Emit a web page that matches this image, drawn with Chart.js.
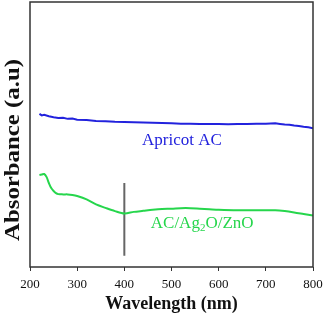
<!DOCTYPE html>
<html>
<head>
<meta charset="utf-8">
<script src="https://cdn.jsdelivr.net/npm/chart.js@4.4.1/dist/chart.umd.min.js"></script>
<style>
  html, body { margin: 0; padding: 0; background: #fff; }
  #wrap { width: 325px; height: 315px; }
</style>
</head>
<body>
<div id="wrap"><canvas id="uvChart"></canvas></div>
<script>
// wavelengths (nm) and absorbance
const apricotWl = [220, 225, 230, 240, 250, 260, 270, 280, 290, 300, 320, 340, 360, 380, 400, 420, 440, 460, 480, 500, 520, 540, 560, 580, 600, 620, 640, 660, 680, 700, 720, 730, 740, 750, 760, 770, 780, 790, 800];
const apricotAbs = [0.578, 0.572, 0.574, 0.569, 0.565, 0.562, 0.563, 0.559, 0.560, 0.556, 0.555, 0.551, 0.550, 0.548, 0.547, 0.546, 0.545, 0.544, 0.543, 0.542, 0.541, 0.541, 0.540, 0.540, 0.540, 0.539, 0.540, 0.540, 0.541, 0.541, 0.542, 0.540, 0.538, 0.537, 0.534, 0.532, 0.529, 0.527, 0.524];

const compositeWl = [220, 225, 230, 235, 240, 245, 250, 255, 260, 270, 280, 290, 300, 320, 340, 360, 380, 400, 420, 440, 460, 480, 500, 520, 540, 560, 580, 600, 640, 680, 720, 740, 760, 780, 800];
const compositeAbs = [0.347, 0.349, 0.351, 0.340, 0.317, 0.298, 0.287, 0.279, 0.275, 0.274, 0.274, 0.272, 0.268, 0.255, 0.236, 0.223, 0.211, 0.202, 0.208, 0.212, 0.216, 0.219, 0.220, 0.222, 0.222, 0.220, 0.218, 0.216, 0.214, 0.214, 0.214, 0.211, 0.206, 0.200, 0.194];

const markerWl = [400, 400];
const markerAbs = [0.317, 0.042];

const xTicks = [200, 300, 400, 500, 600, 700, 800];

const blue = '#2222dd';
const green = '#26d64c';

const toPoints = (xs, ys) => xs.map((x, i) => ({ x: x, y: ys[i] }));

// frame, curve labels and the y title
const decorations = {
    id: 'decorations',
    afterDatasetsDraw(chart) {
        const { ctx, chartArea: a, scales } = chart;
        ctx.save();
        ctx.strokeStyle = '#333';
        ctx.lineWidth = 1.5;
        ctx.strokeRect(a.left, a.top, a.right - a.left, a.bottom - a.top);

        ctx.textBaseline = 'alphabetic';
        ctx.textAlign = 'center';
        ctx.font = '17px "Liberation Serif"';
        ctx.fillStyle = blue;
        ctx.fillText('Apricot AC', scales.x.getPixelForValue(522), scales.y.getPixelForValue(0.460));

        ctx.fillStyle = green;
        const gx = scales.x.getPixelForValue(565);
        const gy = scales.y.getPixelForValue(0.147);
        const p1 = 'AC/Ag', p2 = 'O/ZnO';
        const big = '17px "Liberation Serif"', small = '11px "Liberation Serif"';
        ctx.font = big;
        const w1 = ctx.measureText(p1).width;
        const w2 = ctx.measureText(p2).width;
        ctx.font = small;
        const ws = ctx.measureText('2').width;
        const x0 = gx - (w1 + ws + w2) / 2;
        ctx.textAlign = 'left';
        ctx.font = big;
        ctx.fillText(p1, x0, gy);
        ctx.font = small;
        ctx.fillText('2', x0 + w1, gy + 3);
        ctx.font = big;
        ctx.fillText(p2, x0 + w1 + ws, gy);

        ctx.translate(14, 150);
        ctx.rotate(-Math.PI / 2);
        ctx.scale(1.24, 1);
        ctx.textAlign = 'center';
        ctx.textBaseline = 'middle';
        ctx.fillStyle = '#111';
        ctx.font = 'bold 20px "Liberation Serif"';
        ctx.fillText('Absorbance (a.u)', 0, 0);
        ctx.restore();
    }
};

new Chart(document.getElementById('uvChart'), {
    type: 'line',
    data: {
        datasets: [{
            data: toPoints(apricotWl, apricotAbs),
            borderColor: blue,
            borderWidth: 2,
            pointRadius: 0,
            tension: 0
        },
        {
            data: toPoints(compositeWl, compositeAbs),
            borderColor: green,
            borderWidth: 2,
            pointRadius: 0,
            tension: 0.3
        },
        {
            data: toPoints(markerWl, markerAbs),
            borderColor: '#666',
            borderWidth: 2,
            pointRadius: 0
        }]
    },
    options: {
        responsive: true,
        maintainAspectRatio: false,
        animation: false,
        layout: {
            padding: { top: 2, right: 12, left: 0, bottom: 0 }
        },
        scales: {
            x: {
                type: 'linear',
                min: 200,
                max: 800,
                afterBuildTicks: (scale) => { scale.ticks = xTicks.map(v => ({ value: v })); },
                afterFit: (scale) => { scale.height = 48; scale.paddingRight = 0; },
                grid: { display: true, drawOnChartArea: false, tickLength: 4, color: '#333' },
                border: { display: false },
                ticks: {
                    color: '#111',
                    padding: 6,
                    maxRotation: 0,
                    font: { family: 'Liberation Serif', size: 13 }
                },
                title: {
                    display: true,
                    text: 'Wavelength (nm)',
                    color: '#111',
                    padding: { top: 0, bottom: 0 },
                    font: { family: 'Liberation Serif', size: 18, weight: 'bold' }
                }
            },
            y: {
                min: 0,
                max: 1,
                afterFit: (scale) => { scale.width = 30; },
                ticks: { display: false },
                grid: { display: false },
                border: { display: false }
            }
        },
        plugins: {
            legend: { display: false },
            tooltip: { enabled: false }
        }
    },
    plugins: [decorations]
});
</script>
</body>
</html>
